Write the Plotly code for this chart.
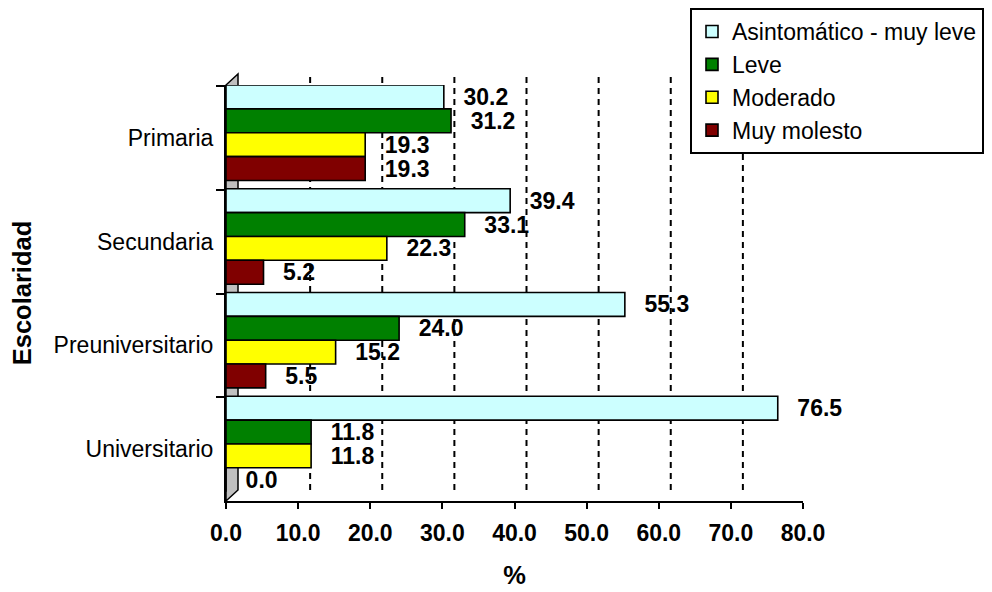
import plotly.graph_objects as go

categories = ["Primaria", "Secundaria", "Preuniversitario", "Universitario"]
series_names = ["Asintomático - muy leve", "Leve", "Moderado", "Muy molesto"]
asintomatico = [30.2, 39.4, 55.3, 76.5]
leve = [31.2, 33.1, 24.0, 11.8]
moderado = [19.3, 22.3, 15.2, 11.8]
muy_molesto = [19.3, 5.2, 5.5, 0.0]
x_ticks = [0, 10, 20, 30, 40, 50, 60, 70, 80]

colors = ["#CCFFFF", "#008000", "#FFFF00", "#800000"]
FONT = "Liberation Sans, Arial, sans-serif"
FS = 23
FS_T = 25.5

# the page body has an 8px margin; compensate so the plot lands where the reference has it
OFF = 8
L, R, T, B = 226 - OFF, 992 - 803 + OFF, 85 - OFF, 592 - 501 + OFF
W_PLOT, H_PLOT = 992 - L - R, 592 - T - B
dx, dy = 12 / W_PLOT, 11 / H_PLOT

BAR_W = 0.23
offsets = [-0.51 + i * BAR_W for i in range(4)]

fig = go.Figure()
for i, (name, vals) in enumerate(zip(series_names, [asintomatico, leve, moderado, muy_molesto])):
    fig.add_trace(go.Bar(
        y=categories, x=vals, name=name, orientation="h",
        width=BAR_W, offset=offsets[i],
        marker=dict(color=colors[i], line=dict(color="black", width=1.6)),
        text=vals, texttemplate="\u00a0\u00a0\u2006%{x:.1f}", textposition="outside",
        textfont=dict(family=FONT, size=FS, color="black", weight="bold"),
        constraintext="none", cliponaxis=False,
        legendgroup=f"g{i}",
    ))

shapes = []
# back-wall dotted gridlines (3D depth offset)
for v in x_ticks[1:]:
    shapes.append(dict(type="line", xref="x", xsizemode="pixel", xanchor=v, x0=12, x1=12,
                       yref="paper", y0=dy, y1=1 + dy, layer="below",
                       line=dict(color="black", width=2, dash="6px,5px")))
# left side wall
shapes.append(dict(type="path", xref="paper", yref="paper",
                   path=f"M 0,0 L {dx},{dy} L {dx},{1+dy} L 0,1 Z",
                   fillcolor="#C0C0C0", line=dict(color="black", width=1.5), layer="below"))

fig.update_layout(
    width=992, height=592,
    margin=dict(l=L, r=R, t=T, b=B, autoexpand=False),
    paper_bgcolor="white", plot_bgcolor="white",
    font=dict(family=FONT, size=FS, color="black"),
    barmode="group", bargap=0.077, bargroupgap=0,
    shapes=shapes,
    showlegend=True,
    legend=dict(x=(690 - 226) / W_PLOT, y=(501 - 8) / H_PLOT, xanchor="left", yanchor="top",
                bgcolor="white", bordercolor="black", borderwidth=2,
                font=dict(family=FONT, size=FS, color="black"),
                tracegroupgap=6, traceorder="normal"),
    xaxis=dict(range=[0, 80], tickvals=x_ticks, tickformat=".1f", showgrid=False, zeroline=False,
               automargin=False,
               showline=True, linecolor="black", linewidth=2, ticks="outside", ticklen=6,
               tickwidth=2, tickcolor="black", ticklabelstandoff=4,
               tickfont=dict(family=FONT, size=FS, color="black", weight="bold"),
               title=dict(text="%", font=dict(family=FONT, size=FS_T, color="black", weight="bold"),
                          standoff=22)),
    yaxis=dict(type="category", categoryorder="array", categoryarray=categories,
               autorange="reversed", showgrid=False, zeroline=False, automargin=False,
               showline=True, linecolor="black", linewidth=2, ticks="outside", ticklen=8,
               tickwidth=2, tickcolor="black", tickson="boundaries", ticklabelstandoff=6,
               tickfont=dict(family=FONT, size=FS, color="black"),
               title=dict(text="Escolaridad", font=dict(family=FONT, size=FS_T, color="black", weight="bold"),
                          standoff=17)),
)

fig.write_html("out.html")
